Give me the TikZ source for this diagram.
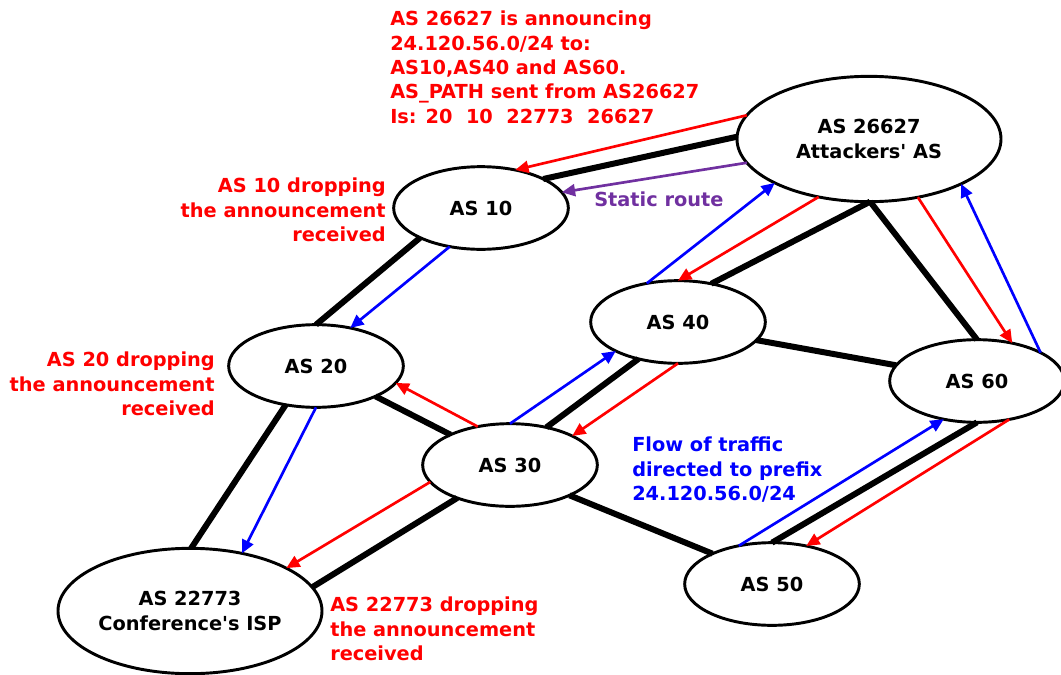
\documentclass[tikz,border=0pt]{standalone}
\usepackage{fontspec}
\setmainfont{DejaVu Sans}
\usetikzlibrary{shapes.geometric,arrows.meta}
\definecolor{annred}{RGB}{255,0,0}
\definecolor{flowblue}{RGB}{0,0,255}
\definecolor{staticpurple}{RGB}{112,48,160}
\begin{document}
\begin{tikzpicture}[x=0.75pt,y=0.75pt,
  txt/.style={font=\bfseries\fontsize{14.5pt}{18.2pt}\selectfont, inner sep=0pt},
  as/.style={ellipse, draw, line width=2.2pt, inner sep=0pt, outer sep=0pt,
    minimum width=131pt, minimum height=62pt, txt, align=center},
  bigas/.style={as, minimum width=198pt, minimum height=94pt},
  link/.style={line width=4.5pt},
  tip/.style={-{Triangle[length=10pt,width=9pt]}},
  flow/.style={tip, line width=2pt, flowblue},
  ann/.style={tip, line width=2pt, annred},
  static/.style={tip, line width=2pt, staticpurple},
  note/.style={txt, align=left}]
\useasboundingbox (0,0) rectangle (1061,-675);

% autonomous systems
\node[bigas] (a26627) at (869,-139) {AS 26627\\Attackers\textquotesingle{} AS};
\node[as] (a10) at (481,-208) {AS 10};
\node[as] (a20) at (316,-366) {AS 20};
\node[as] (a40) at (678,-322) {AS 40};
\node[as] (a60) at (977,-381) {AS 60};
\node[as] (a30) at (510,-465) {AS 30};
\node[as] (a50) at (772,-584) {AS 50};
\node[bigas] (a22773) at (190,-611) {AS 22773\\Conference\textquotesingle{}s ISP};

% physical links
\draw[link] (a10.25.8) -- (a26627.179);
\draw[link] (a10.206.6) -- (a20.90);
\draw[link] (a20.232) -- (a22773.89);
\draw[link] (a20.333.4) -- (a30.153);
\draw[link] (a30.212.5) -- (a22773.11.4);
\draw[link] (a30.46.7) -- (a40.223.6);
\draw[link] (a30.333.8) -- (a50.153);
\draw[link] (a40.49.6) -- (a26627.271);
\draw[link] (a40.347.6) -- (a60.169.6);
\draw[link] (a26627.271) -- (a60.90);
\draw[link] (a60.270) -- (a50.90);

% traffic towards the prefix
\draw[flow] (a10.231) -- (a20.48.2);
\draw[flow] (a20.270) -- (a22773.48);
\draw[flow] (a30.90) -- (a40.205.5);
\draw[flow] (a40.129.5) -- (a26627.205.8);
\draw[flow] (a50.131) -- (a60.229);
\draw[flow] (a60.24.7) -- (a26627.334.2);

% route announcements
\draw[ann] (a26627.169) -- (a10.48.2);
\draw[ann] (a26627.229.2) -- (a40.90);
\draw[ann] (a26627.310.8) -- (a60.47.5);
\draw[ann] (a40.270) -- (a30.25);
\draw[ann] (a30.130.4) -- (a20.348.3);
\draw[ann] (a30.192.4) -- (a22773.24.8);
\draw[ann] (a60.310.5) -- (a50.48.2);

% static route
\draw[static] (a26627.191) -- (a10.11.2);
\node[txt, text=staticpurple, anchor=west] (lstatic) at (594,-199) {Static route};

% annotations
\node[note, text=annred, anchor=north west] (lann) at (390,-11)
  {AS 26627 is announcing\\24.120.56.0/24 to:\\AS10,AS40 and AS60.\\AS\_PATH sent from AS26627\\Is: 20\ \ 10\ \ 22773\ \ 26627};
\node[txt, text=annred, align=right, anchor=north east] (ldrop10) at (386,-178)
  {AS 10 dropping\\the announcement\\received};
\node[txt, text=annred, align=right, anchor=north east] (ldrop20) at (215,-352)
  {AS 20 dropping\\the announcement\\received};
\node[note, text=annred, anchor=north west] (ldrop22773) at (330,-597)
  {AS 22773 dropping\\the announcement\\received};
\node[note, text=flowblue, anchor=north west] (lflow) at (632,-437)
  {Flow of traffic\\directed to prefix\\24.120.56.0/24};
\end{tikzpicture}
\end{document}
